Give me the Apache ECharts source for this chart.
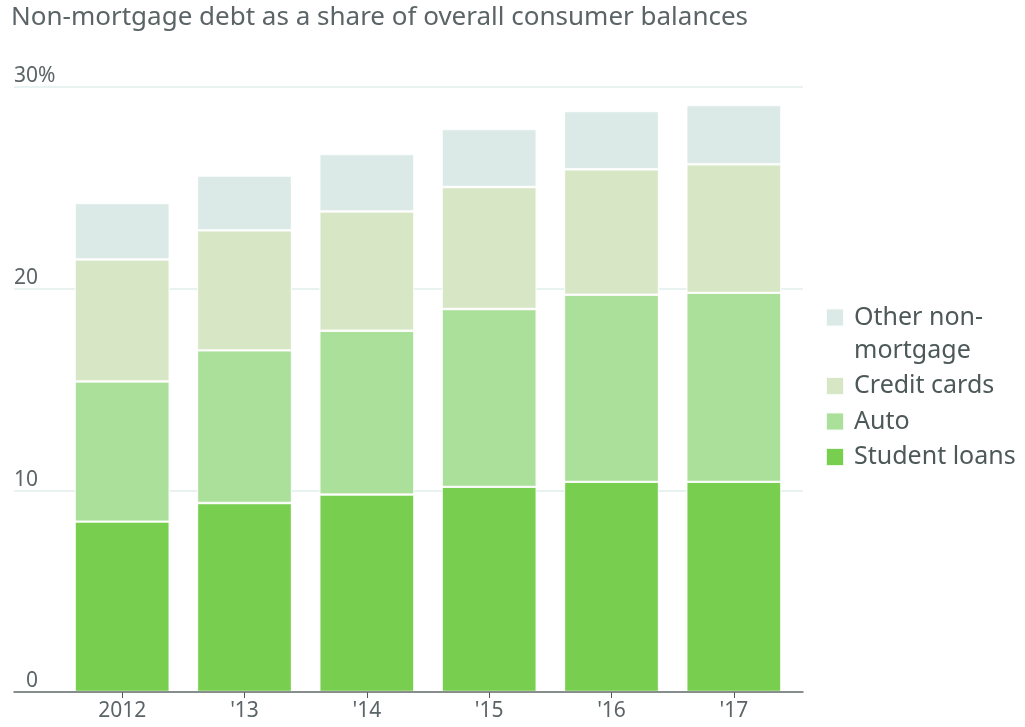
<!DOCTYPE html>
<html>
<head>
<meta charset="utf-8">
<script src="https://cdn.jsdelivr.net/npm/echarts@6/dist/echarts.min.js"></script>
<style>
  html, body { margin: 0; padding: 0; background: #fff; }
  #chart { width: 1025px; height: 727px; }
</style>
</head>
<body>
<div id="chart"></div>
<script>
var years = ['2012', "'13", "'14", "'15", "'16", "'17"]
var studentLoans = [8.45, 9.37, 9.79, 10.17, 10.42, 10.42]
var auto = [6.95, 7.57, 8.12, 8.82, 9.28, 9.37]
var creditCards = [6.05, 5.95, 5.92, 6.05, 6.22, 6.38]
var otherNonMortgage = [2.8, 2.72, 2.84, 2.87, 2.89, 2.93]
var yTicks = [0, 10, 20, 30]

var font = 'Noto Sans'
var textGrey = '#5b6466'
var colors = {
  student: '#78ce4f',
  auto: '#abe09b',
  credit: '#d7e6c4',
  other: '#dbeae6'
}

function barSeries(name, data, color) {
  return {
    name: name,
    type: 'bar',
    stack: 'debt',
    xAxisIndex: 1,
    yAxisIndex: 1,
    barWidth: 95,
    data: data,
    itemStyle: {
      color: color,
      borderColor: 'rgba(255,255,255,0.85)',
      borderWidth: 1.2
    },
    emphasis: { disabled: true }
  }
}

var chart = echarts.init(document.getElementById('chart'))

var option = {
  animation: false,
  title: {
    text: 'Non-mortgage debt as a share of overall consumer balances',
    left: 6,
    top: 0,
    textStyle: {
      fontFamily: font,
      fontWeight: 'normal',
      fontSize: 26,
      color: textGrey
    }
  },
  legend: {
    orient: 'vertical',
    left: 820,
    top: 263,
    itemWidth: 18,
    itemHeight: 18,
    itemGap: 2.5,
    icon: 'rect',
    selectedMode: false,
    // leading blank line keeps the square level with the first text line
    formatter: function (name) {
      return name === 'Other non-mortgage' ? '\nOther non-\nmortgage' : name
    },
    textStyle: {
      fontFamily: font,
      fontSize: 25,
      lineHeight: 33,
      padding: [0, 0, 0, 5],
      color: '#4d5858'
    },
    data: ['Other non-mortgage', 'Credit cards', 'Auto', 'Student loans']
  },
  grid: [
    { left: 14, right: 222, top: 87, bottom: 35 },
    { left: 61, right: 230, top: 87, bottom: 35 }
  ],
  xAxis: [
    {
      type: 'value',
      gridIndex: 0,
      z: 10,
      axisLine: { show: true, onZero: false, lineStyle: { color: '#666c6c', width: 1.5 } },
      axisTick: { show: false },
      axisLabel: { show: false },
      splitLine: { show: false }
    },
    {
      type: 'category',
      gridIndex: 1,
      data: years,
      axisLine: { show: false },
      axisTick: { show: true, alignWithLabel: true, length: 6, lineStyle: { color: '#555' } },
      axisLabel: {
        margin: 9,
        fontFamily: font,
        fontSize: 21,
        color: textGrey
      }
    }
  ],
  yAxis: [
    {
      type: 'value',
      gridIndex: 0,
      min: yTicks[0],
      max: yTicks[yTicks.length - 1],
      interval: 10,
      axisLine: { show: false },
      axisTick: { show: false },
      splitLine: { lineStyle: { color: '#e1eeec', width: 1.5 } },
      axisLabel: {
        inside: true,
        margin: 0,
        verticalAlign: 'bottom',
        fontFamily: font,
        fontSize: 21,
        color: textGrey,
        formatter: function (v) {
          if (v === 0) return '{z|0}'
          if (v === 30) return '30%'
          return String(v)
        },
        rich: {
          z: { padding: [0, 0, 0, 12], fontFamily: font, fontSize: 21, color: textGrey }
        }
      }
    },
    {
      type: 'value',
      gridIndex: 1,
      min: 0,
      max: 30,
      show: false
    }
  ],
  series: [
    barSeries('Student loans', studentLoans, colors.student),
    barSeries('Auto', auto, colors.auto),
    barSeries('Credit cards', creditCards, colors.credit),
    barSeries('Other non-mortgage', otherNonMortgage, colors.other)
  ]
}

chart.setOption(option)
</script>
</body>
</html>
